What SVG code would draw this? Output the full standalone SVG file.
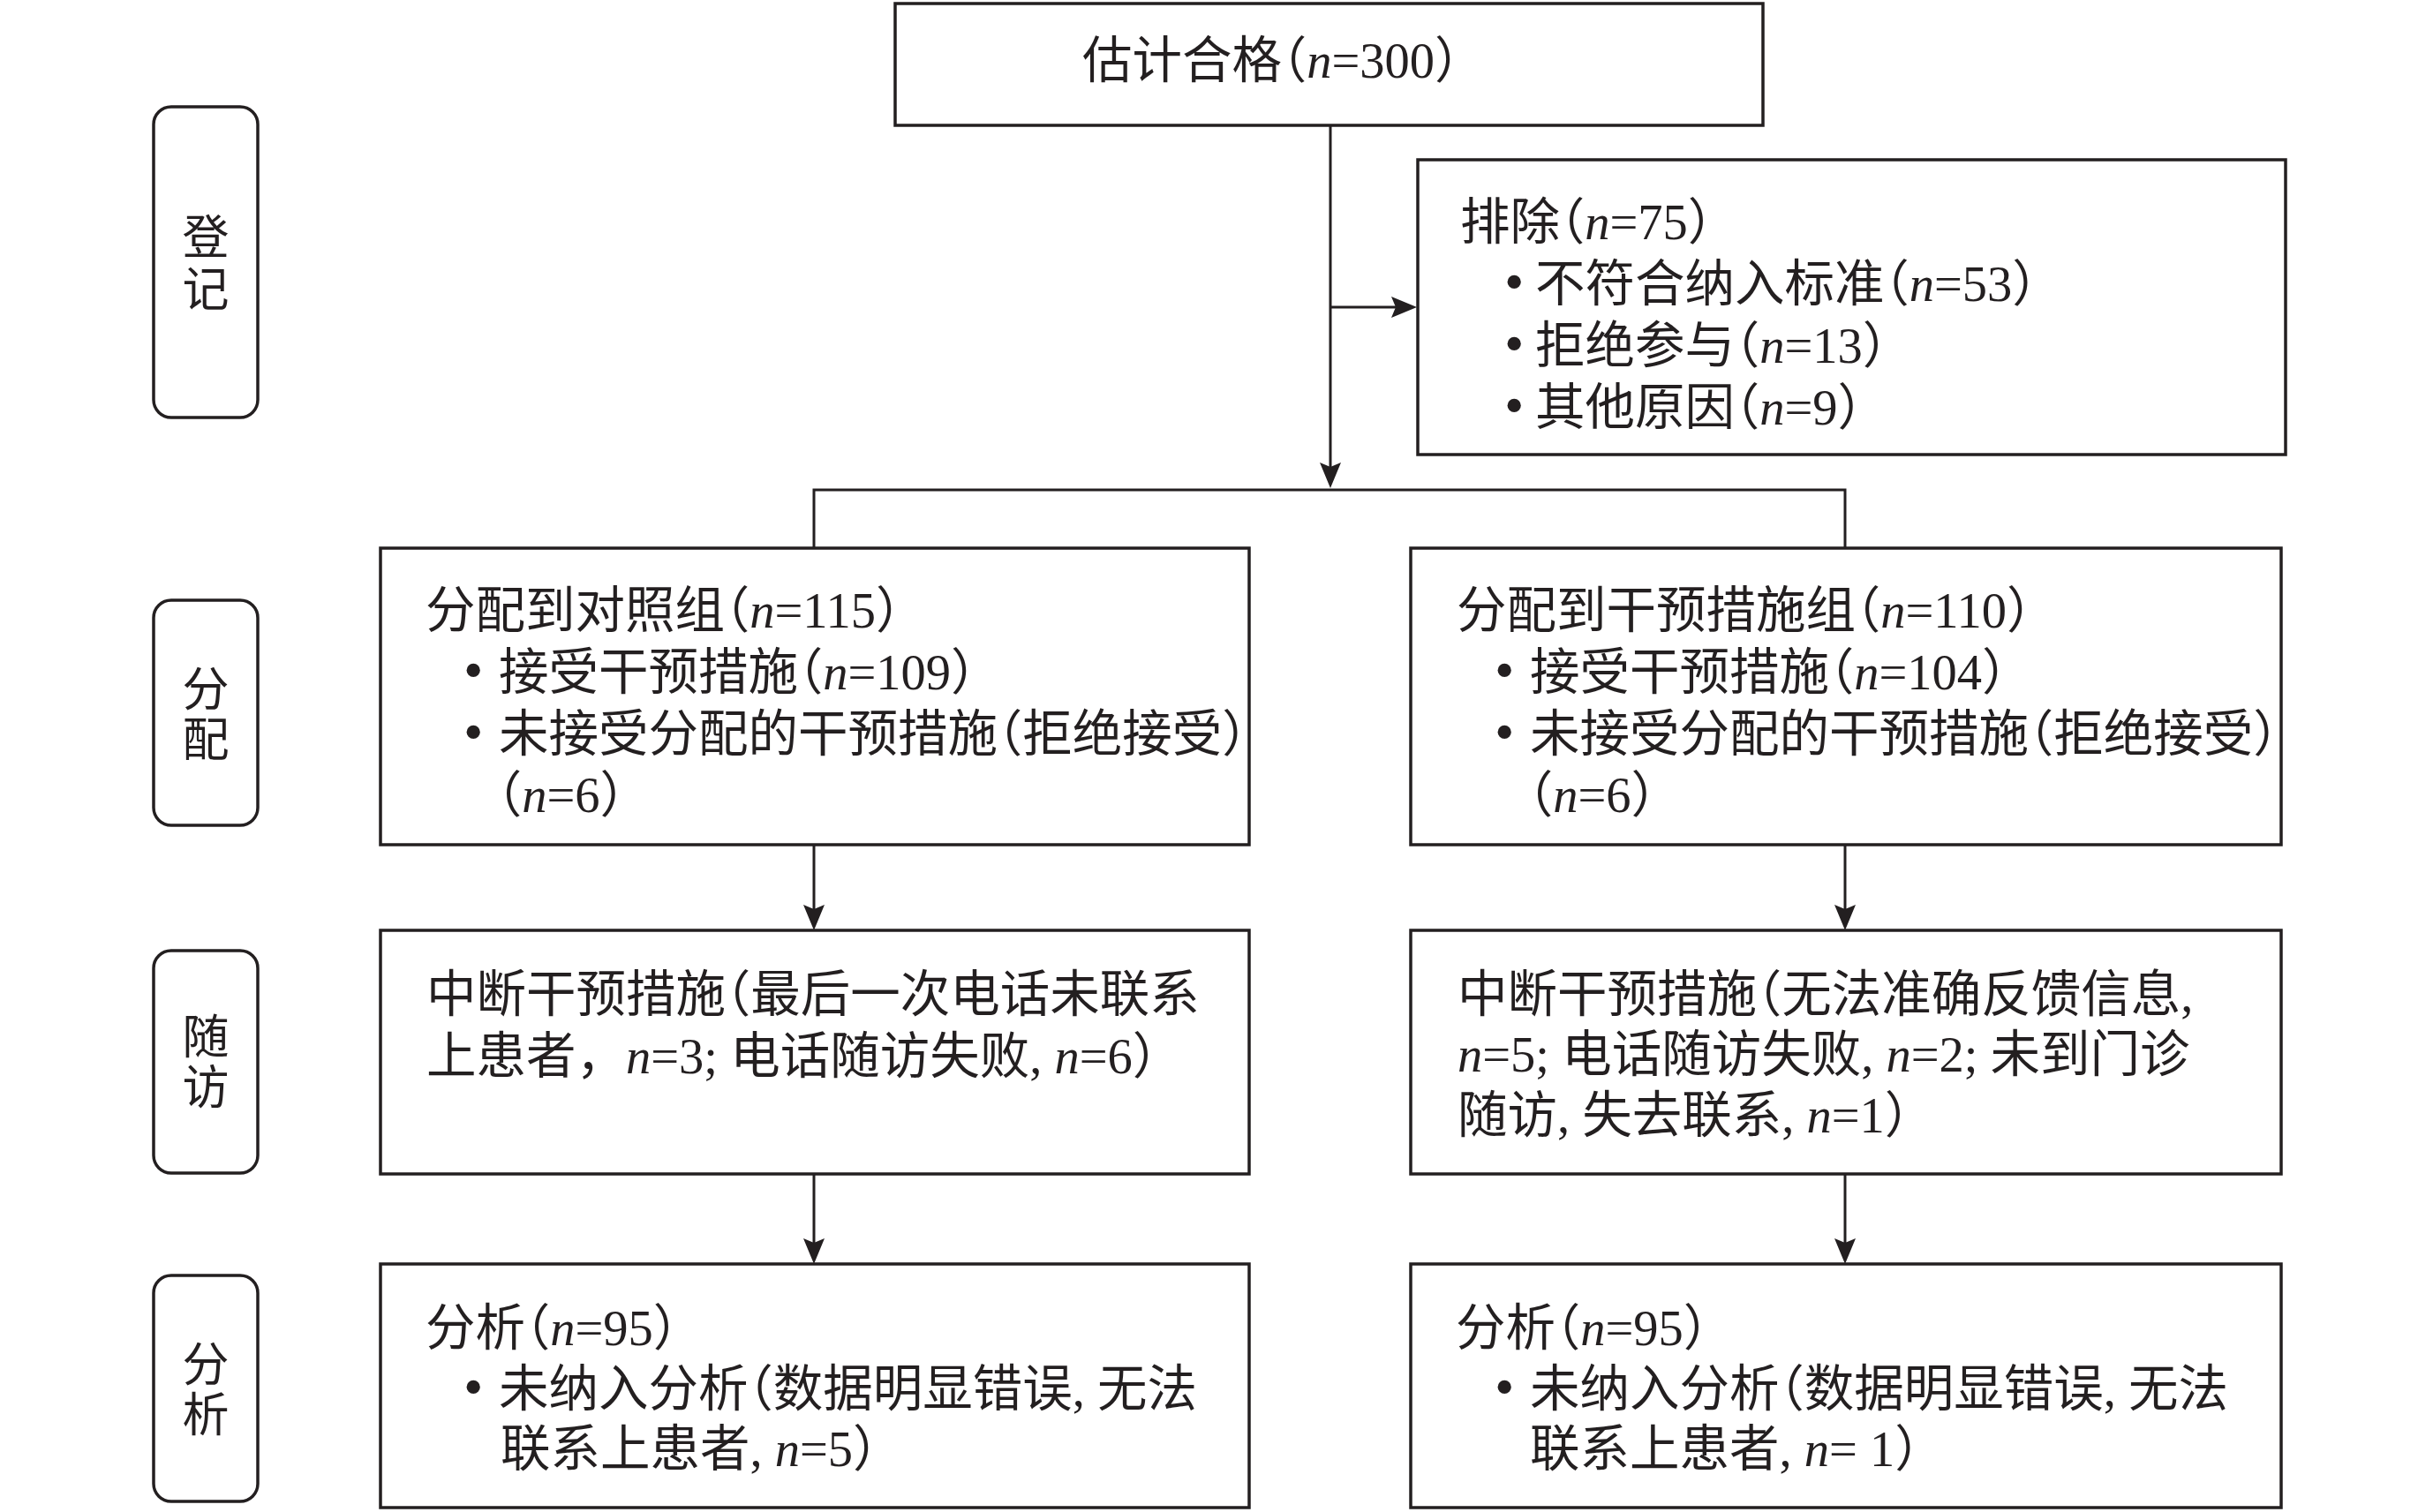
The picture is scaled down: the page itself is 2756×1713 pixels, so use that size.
<svg xmlns="http://www.w3.org/2000/svg" width="2756" height="1713" viewBox="0 0 2756 1713">
<style>
.box{fill:#fff;stroke:#231f20;stroke-width:3.5}
.lab{fill:#fff;stroke:#231f20;stroke-width:3.5}
.con{fill:none;stroke:#231f20;stroke-width:3}
.t{font-family:"Liberation Serif","Noto Sans CJK SC",serif;font-size:56.5px;fill:#231f20;font-feature-settings:"halt"}
.lt{font-family:"Liberation Serif","Noto Sans CJK SC",serif;font-size:53px;fill:#231f20;text-anchor:middle}
.i{font-style:italic}
.fw{font-feature-settings:normal}
.b{font-size:64px}
</style>
<defs>
<marker id="ah" viewBox="-25 -13 31 26" refX="0" refY="0" markerWidth="31" markerHeight="26" markerUnits="userSpaceOnUse" orient="auto">
<path d="M5,0 L-24,-12 L-19,0 L-24,12 Z" fill="#231f20"/>
</marker>
</defs>
<rect width="2756" height="1713" fill="#fff"/>

<g id="stage-enroll">
<rect class="lab" x="174" y="121" width="118" height="352" rx="20"/>
<text class="lt" x="233" y="288">登</text>
<text class="lt" x="233" y="347">记</text>
</g>
<g id="stage-alloc">
<rect class="lab" x="174" y="680" width="118" height="255" rx="20"/>
<text class="lt" x="233" y="800">分</text>
<text class="lt" x="233" y="857">配</text>
</g>
<g id="stage-follow">
<rect class="lab" x="174" y="1077" width="118" height="252" rx="20"/>
<text class="lt" x="233" y="1194">随</text>
<text class="lt" x="233" y="1251">访</text>
</g>
<g id="stage-analysis">
<rect class="lab" x="174" y="1445" width="118" height="256" rx="20"/>
<text class="lt" x="233" y="1565">分</text>
<text class="lt" x="233" y="1622">析</text>
</g>

<g id="connectors">
<path class="con" d="M1507,142 V548" marker-end="url(#ah)"/>
<path class="con" d="M1507,348 H1600" marker-end="url(#ah)"/>
<path class="con" d="M922,621 V555 H2090 V621"/>
<path class="con" d="M922,957 V1049" marker-end="url(#ah)"/>
<path class="con" d="M2090,957 V1049" marker-end="url(#ah)"/>
<path class="con" d="M922,1330 V1427" marker-end="url(#ah)"/>
<path class="con" d="M2090,1330 V1427" marker-end="url(#ah)"/>
</g>

<g id="eligible">
<rect class="box" x="1014" y="4" width="983" height="138"/>
<text class="t" x="1226" y="88">估计合格（<tspan class="i">n</tspan>=300）</text>
</g>

<g id="excluded">
<rect class="box" x="1606" y="181" width="983" height="334"/>
<text class="t" x="1654" y="271">排除（<tspan class="i">n</tspan>=75）</text>
<text class="t" y="341"><tspan class="b" x="1704">•</tspan><tspan x="1739">不符合纳入标准（<tspan class="i">n</tspan>=53）</tspan></text>
<text class="t" y="411"><tspan class="b" x="1704">•</tspan><tspan x="1739">拒绝参与（<tspan class="i">n</tspan>=13）</tspan></text>
<text class="t" y="481"><tspan class="b" x="1704">•</tspan><tspan x="1739">其他原因（<tspan class="i">n</tspan>=9）</tspan></text>
</g>

<g id="alloc-control">
<rect class="box" x="431" y="621" width="984" height="336"/>
<text class="t" x="482" y="711">分配到对照组（<tspan class="i">n</tspan>=115）</text>
<text class="t" y="781"><tspan class="b" x="525">•</tspan><tspan x="565">接受干预措施（<tspan class="i">n</tspan>=109）</tspan></text>
<text class="t" y="851"><tspan class="b" x="525">•</tspan><tspan x="565">未接受分配的干预措施（拒绝接受）</tspan></text>
<text class="t" x="563" y="920">（<tspan class="i">n</tspan>=6）</text>
</g>

<g id="alloc-intervention">
<rect class="box" x="1598" y="621" width="986" height="336"/>
<text class="t" x="1650" y="711">分配到干预措施组（<tspan class="i">n</tspan>=110）</text>
<text class="t" y="781"><tspan class="b" x="1693">•</tspan><tspan x="1733">接受干预措施（<tspan class="i">n</tspan>=104）</tspan></text>
<text class="t" y="851"><tspan class="b" x="1693">•</tspan><tspan x="1733">未接受分配的干预措施（拒绝接受）</tspan></text>
<text class="t" x="1731" y="920">（<tspan class="i">n</tspan>=6）</text>
</g>

<g id="follow-control">
<rect class="box" x="431" y="1054" width="984" height="276"/>
<text class="t" x="483" y="1146">中断干预措施（最后一次电话未联系</text>
<text class="t" x="483" y="1216">上患者<tspan class="fw">，</tspan><tspan class="i">n</tspan>=3; 电话随访失败, <tspan class="i">n</tspan>=6）</text>
</g>

<g id="follow-intervention">
<rect class="box" x="1598" y="1054" width="986" height="276"/>
<text class="t" x="1651" y="1146">中断干预措施（无法准确反馈信息,</text>
<text class="t" x="1651" y="1214"><tspan class="i">n</tspan>=5; 电话随访失败, <tspan class="i">n</tspan>=2; 未到门诊</text>
<text class="t" x="1651" y="1283">随访, 失去联系, <tspan class="i">n</tspan>=1）</text>
</g>

<g id="analysis-control">
<rect class="box" x="431" y="1432" width="984" height="276"/>
<text class="t" x="482" y="1524">分析（<tspan class="i">n</tspan>=95）</text>
<text class="t" y="1593"><tspan class="b" x="525">•</tspan><tspan x="565">未纳入分析（数据明显错误, 无法</tspan></text>
<text class="t" x="567" y="1661">联系上患者, <tspan class="i">n</tspan>=5）</text>
</g>

<g id="analysis-intervention">
<rect class="box" x="1598" y="1432" width="986" height="276"/>
<text class="t" x="1649" y="1524">分析（<tspan class="i">n</tspan>=95）</text>
<text class="t" y="1593"><tspan class="b" x="1693">•</tspan><tspan x="1733">未纳入分析（数据明显错误, 无法</tspan></text>
<text class="t" x="1733" y="1661">联系上患者, <tspan class="i">n</tspan>= 1）</text>
</g>
</svg>
